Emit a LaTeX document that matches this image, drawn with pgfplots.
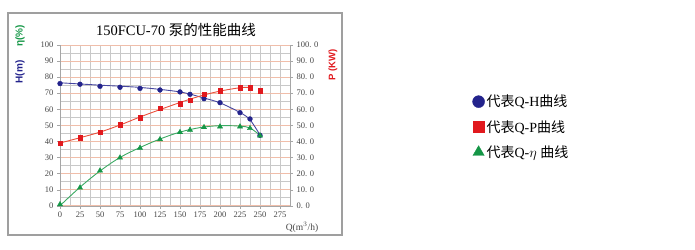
\documentclass[border=0pt]{standalone}
\usepackage{pgfplots}
\pgfplotsset{compat=1.18}
\usepackage{fontspec}
\setmainfont{Liberation Serif}
\setsansfont{Liberation Sans}
\newfontfamily\cjk{Noto Sans CJK SC}
\definecolor{hcol}{RGB}{35,35,140}
\definecolor{hline}{RGB}{70,70,160}
\definecolor{pcol}{RGB}{225,25,30}
\definecolor{pline}{RGB}{235,80,60}
\definecolor{ecol}{RGB}{20,150,70}
\definecolor{eline}{RGB}{60,170,100}
\definecolor{gridg}{RGB}{200,200,200}
\definecolor{grido}{RGB}{240,190,170}
\definecolor{tickc}{RGB}{70,70,70}
\begin{document}
\begin{tikzpicture}[x=1pt,y=1pt]
\path[use as bounding box] (0,0) rectangle (695,249);
\draw[gray!75, line width=1.2pt] (8,14) rectangle (342,236);
\begin{axis}[
  at={(60pt,43.3pt)}, anchor=south west,
  width=230pt, height=160.7pt, scale only axis,
  xmin=0, xmax=287.5, ymin=0, ymax=100,
  xtick={0,25,...,275}, ytick={0,10,...,100},
  minor x tick num=1, minor y tick num=1,
  grid=both,
  major x grid style={gridg, line width=0.5pt},
  minor x grid style={gridg, line width=0.5pt},
  major y grid style={grido, line width=0.6pt},
  minor y grid style={gridg, line width=0.5pt},
  axis line style={gray!70},
  axis y line*=left, axis x line*=bottom,
  tick style={gray!70},
  minor tick length=0pt, major tick length=3pt,
  tick align=outside,
  ticklabel style={font=\fontsize{8.5}{9}\selectfont, text=tickc},
  /pgf/number format/assume math mode=true,
  clip=false,
  legend style={at={(1.78,0.715)}, anchor=north west, draw=none, fill=none,
    font=\fontsize{14}{15}\selectfont, row sep=8pt,
    legend cell align=left},
]
\addlegendimage{only marks, mark=*, mark size=6pt, color=hcol}
\addlegendentry{{\cjk 代表}Q-H{\cjk 曲线}}
\addlegendimage{only marks, mark=square*, mark size=5.5pt, color=pcol}
\addlegendentry{{\cjk 代表}Q-P{\cjk 曲线}}
\addlegendimage{only marks, mark=triangle*, mark size=6.5pt, color=ecol}
\addlegendentry{{\cjk 代表}Q-$\eta$ {\cjk 曲线}}
% Q-H curve
\addplot[hline, line width=0.9pt, smooth, tension=0.5, forget plot] coordinates {
(0,76.5) (50,75) (100,73.6) (150,70.8) (180,67) (200,64) (225,58) (237.5,53.5) (250,44)};
\addplot[only marks, mark=*, mark size=2.4pt, color=hcol, forget plot] coordinates {
(0,76) (25,75.6) (50,74.3) (75,73.7) (100,73) (125,72) (150,70.8) (162.5,69.3) (180,66.6) (200,64.1) (225,57.9) (237.5,54) (250,43.8)};
% Q-P curve
\addplot[pline, line width=0.9pt, smooth, tension=0.6, forget plot] coordinates {
(0,39) (25,42.3) (50,45.8) (75,50.2) (100,55.2) (125,59.8) (150,64.2) (175,68.2) (200,71.3) (225,73.4) (237.5,73.6)};
\addplot[only marks, mark=square*, mark size=2.3pt, color=pcol, forget plot] coordinates {
(0,39) (25,42.3) (50,45.7) (75,50.4) (100,54.8) (125,60.6) (150,63.3) (162.5,65.6) (180,69.5) (200,71.4) (225,73.4) (237.5,73.6) (250,71.4)};
% Q-eta curve
\addplot[eline, line width=0.9pt, smooth, tension=0.6, forget plot] coordinates {
(0,0) (25,11.5) (50,21.6) (75,30) (100,36.2) (125,41.5) (150,45.8) (175,48.6) (200,49.8) (225,49.5) (237.5,48.3) (250,43.8)};
\addplot[only marks, mark=triangle*, mark size=3pt, color=ecol, forget plot] coordinates {
(0,0.8) (25,11.2) (50,21.8) (75,29.9) (100,35.9) (125,41.3) (150,45.7) (162.5,47.1) (180,48.8) (200,49.2) (225,49.2) (237.5,48.2) (250,43.6)};
\end{axis}
\begin{axis}[
  at={(60pt,43.3pt)}, anchor=south west,
  width=230pt, height=160.7pt, scale only axis,
  xmin=0, xmax=287.5, ymin=0, ymax=100,
  axis x line=none, axis y line*=right,
  axis line style={gray!70},
  ytick={0,10,...,100},
  yticklabels={0. 0,10. 0,20. 0,30. 0,40. 0,50. 0,60. 0,70. 0,80. 0,90. 0,100. 0},
  yticklabel style={anchor=west, font=\fontsize{8.5}{9}\selectfont, text=tickc},
  tick style={gray!70}, major tick length=3pt, tick align=outside,
]
\addplot[draw=none, forget plot] coordinates {(0,0)};
\end{axis}
\node[font=\fontsize{14.5}{15}\selectfont, anchor=center] at (176,219) {150FCU-70 {\cjk 泵的性能曲线}};
\node[font=\sffamily\bfseries\fontsize{10}{11}\selectfont, text=hcol, rotate=90] at (20,177) {H(m)};
\node[font=\sffamily\bfseries\fontsize{10}{11}\selectfont, text=ecol, rotate=90] at (20,213) {η(\%)};
\node[font=\sffamily\bfseries\fontsize{9.5}{10}\selectfont, text=pcol, rotate=90] at (333,184) {P (KW)};
\node[font=\fontsize{9.5}{10}\selectfont, text=tickc] at (302,22) {Q(m$^3$/h)};
\end{tikzpicture}
\end{document}
